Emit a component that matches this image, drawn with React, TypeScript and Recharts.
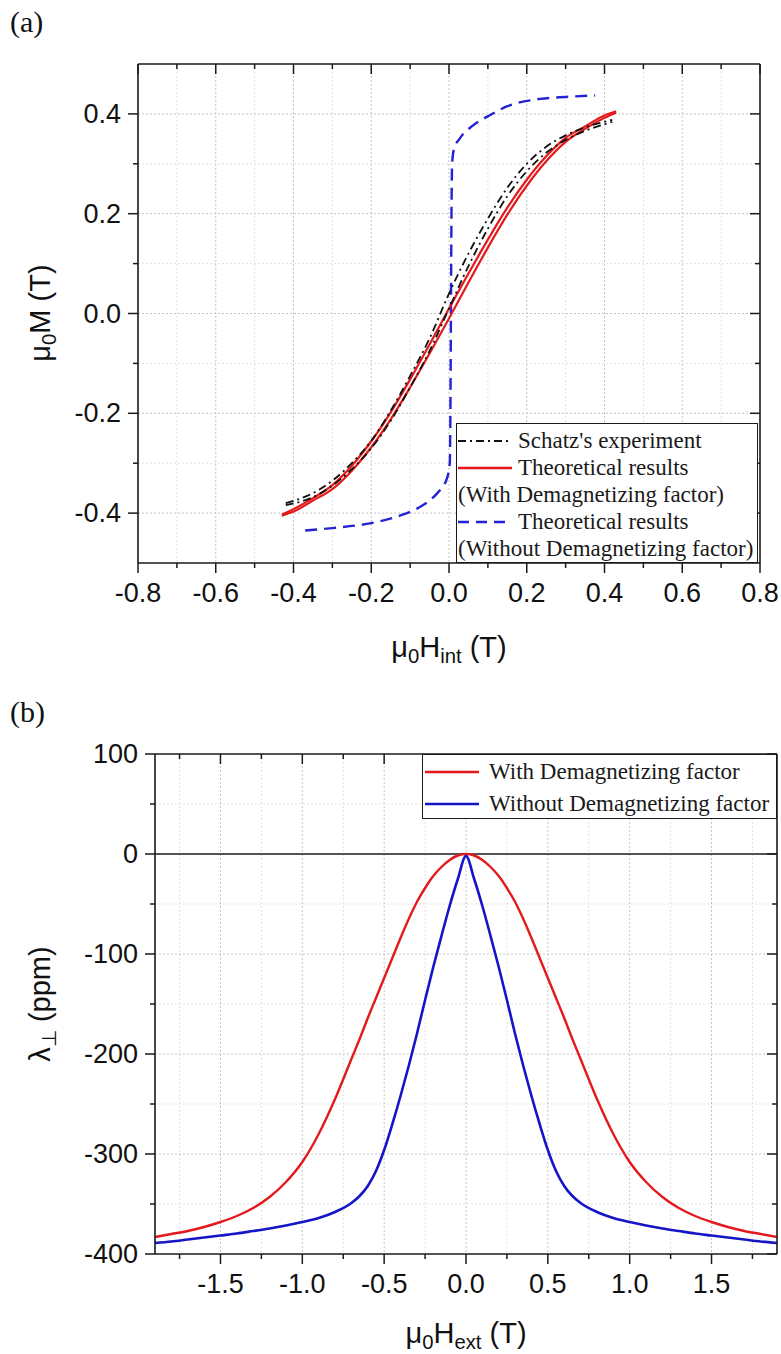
import React from 'react';
import { LineChart, Line, XAxis, YAxis, CartesianGrid, Legend, ReferenceLine } from 'recharts';

// ---- (a) magnetisation, mu0M (T) vs mu0H_int (T) ----
const schatzH = [-0.42, -0.35, -0.3, -0.25, -0.2, -0.15, -0.1, -0.05, 0, 0.05, 0.1, 0.15, 0.2, 0.25, 0.3, 0.35, 0.42];
const schatzUpper = [-0.38, -0.36, -0.335, -0.3, -0.255, -0.195, -0.125, -0.05, 0.04, 0.12, 0.19, 0.252, 0.3, 0.334, 0.357, 0.373, 0.388];
const schatzLower = [-0.384, -0.368, -0.345, -0.312, -0.27, -0.215, -0.148, -0.075, 0.01, 0.095, 0.17, 0.235, 0.285, 0.322, 0.348, 0.366, 0.384];

const redH = [-0.43, -0.4, -0.35, -0.3, -0.25, -0.2, -0.15, -0.1, -0.05, 0, 0.05, 0.1, 0.15, 0.2, 0.25, 0.3, 0.35, 0.4, 0.43];
const redUpper = [-0.403, -0.392, -0.37, -0.344, -0.305, -0.256, -0.198, -0.132, -0.062, 0.01, 0.08, 0.148, 0.212, 0.268, 0.315, 0.352, 0.375, 0.397, 0.405];
const redLower = [-0.405, -0.397, -0.375, -0.352, -0.315, -0.268, -0.212, -0.148, -0.08, -0.01, 0.062, 0.132, 0.198, 0.256, 0.305, 0.344, 0.37, 0.392, 0.403];

const blueH = [-0.37, -0.3, -0.2, -0.126, -0.08, -0.05, -0.03, -0.015, -0.005, 0.002, 0.004, 0.005, 0.006, 0.008, 0.013, 0.028, 0.062, 0.1, 0.149, 0.234, 0.3, 0.376];
const blueM = [-0.435, -0.43, -0.42, -0.405, -0.39, -0.375, -0.36, -0.345, -0.33, -0.3, -0.15, 0, 0.15, 0.3, 0.33, 0.351, 0.377, 0.395, 0.415, 0.43, 0.434, 0.437];

const aTicksX = [-0.8, -0.7, -0.6, -0.5, -0.4, -0.3, -0.2, -0.1, 0, 0.1, 0.2, 0.3, 0.4, 0.5, 0.6, 0.7, 0.8];
const aLabelsX = [-0.8, -0.6, -0.4, -0.2, 0, 0.2, 0.4, 0.6, 0.8];
const aTicksY = [-0.4, -0.3, -0.2, -0.1, 0, 0.1, 0.2, 0.3, 0.4];
const aLabelsY = [-0.4, -0.2, 0, 0.2, 0.4];

// ---- (b) magnetostriction, lambda_perp (ppm) vs mu0H_ext (T) ----
const hExt = [-1.9, -1.8, -1.7, -1.6, -1.5, -1.4, -1.3, -1.2, -1.1, -1.0, -0.9, -0.8, -0.7, -0.65, -0.6, -0.55, -0.5, -0.45, -0.4, -0.35, -0.3, -0.25, -0.2, -0.15, -0.1, -0.05,
  0, 0.05, 0.1, 0.15, 0.2, 0.25, 0.3, 0.35, 0.4, 0.45, 0.5, 0.55, 0.6, 0.65, 0.7, 0.8, 0.9, 1.0, 1.1, 1.2, 1.3, 1.4, 1.5, 1.6, 1.7, 1.8, 1.9];
const lambdaWith = [-383, -380, -377, -373, -368, -362, -354, -343, -328, -308, -280, -245, -205, -185, -164, -144, -124, -104, -84, -65, -48, -34, -22, -13, -6, -1.5,
  0, -1.5, -6, -13, -22, -34, -48, -65, -84, -104, -124, -144, -164, -185, -205, -245, -280, -308, -328, -343, -354, -362, -368, -373, -377, -380, -383];
const lambdaWithout = [-389, -387.5, -385.5, -383.5, -381.5, -379.5, -377, -374.5, -371.5, -368, -364, -358, -349, -342, -332, -317, -296, -270, -242, -212, -180, -146, -113, -82, -52, -25,
  -2, -25, -52, -82, -113, -146, -180, -212, -242, -270, -296, -317, -332, -342, -349, -358, -364, -368, -371.5, -374.5, -377, -379.5, -381.5, -383.5, -385.5, -387.5, -389];

const bTicksX = [-1.75, -1.5, -1.25, -1, -0.75, -0.5, -0.25, 0, 0.25, 0.5, 0.75, 1, 1.25, 1.5, 1.75];
const bLabelsX = [-1.5, -1, -0.5, 0, 0.5, 1, 1.5];
const bTicksY = [-400, -350, -300, -250, -200, -150, -100, -50, 0, 50, 100];
const bLabelsY = [-400, -300, -200, -100, 0, 100];

const toPoints = (h: number[], m: number[]) => h.map((v, i) => ({ h: v, m: m[i] }));

const AXIS = '#1a1a1a';
const SANS = "Arial, 'Liberation Sans', sans-serif";
const SERIF = "'Times New Roman', 'Liberation Serif', serif";

type Side = 'bottom' | 'top' | 'left' | 'right';

// draws its own tick marks: long on labelled values, short otherwise
const tickFor = (side: Side, majors: number[], fmt?: (v: number) => string) => (props: any) => {
  const { x, y, payload } = props;
  const v = Number(payload.value);
  const major = majors.some((t) => Math.abs(t - v) < 1e-6);
  const len = major ? 10 : 5;
  const label = major && fmt ? fmt(v) : null;
  const txt = { fontFamily: SANS, fontSize: 27, fill: '#111' };
  if (side === 'bottom') {
    return (
      <g>
        <line x1={x} y1={y} x2={x} y2={y + len} stroke={AXIS} strokeWidth={1.5} />
        {label !== null && <text x={x} y={y + 30} textAnchor="middle" dominantBaseline="central" {...txt}>{label}</text>}
      </g>
    );
  }
  if (side === 'top') return <line x1={x} y1={y} x2={x} y2={y + len} stroke={AXIS} strokeWidth={1.5} />;
  if (side === 'left') {
    return (
      <g>
        <line x1={x - len} y1={y} x2={x} y2={y} stroke={AXIS} strokeWidth={1.5} />
        {label !== null && <text x={x - 17} y={y} textAnchor="end" dominantBaseline="central" {...txt}>{label}</text>}
      </g>
    );
  }
  return <line x1={x - len} y1={y} x2={x} y2={y} stroke={AXIS} strokeWidth={1.5} />;
};

const f1 = (v: number) => v.toFixed(1);
const fInt = (v: number) => String(Math.round(v));

const Sub = ({ children }: { children: React.ReactNode }) => (
  <span style={{ fontSize: '0.7em', position: 'relative', top: '0.32em' }}>{children}</span>
);

const Title = ({ x, y, rotate, children }: { x: number; y: number; rotate?: boolean; children: React.ReactNode }) => (
  <div
    style={{
      position: 'absolute', left: x, top: y, whiteSpace: 'nowrap', lineHeight: 1,
      transform: `translate(-50%, -50%)${rotate ? ' rotate(-90deg)' : ''}`,
      fontFamily: SANS, fontSize: 29, color: '#111',
    }}
  >
    {children}
  </div>
);

const Sample = ({ color, dash, width }: { color: string; dash?: string; width: number }) => (
  <svg width={56} height={10} style={{ display: 'block', flex: 'none' }}>
    <line x1={0} y1={5} x2={54} y2={5} stroke={color} strokeWidth={width} strokeDasharray={dash} />
  </svg>
);

const rowStyle = (h: number): React.CSSProperties => ({ display: 'flex', alignItems: 'center', height: h, whiteSpace: 'nowrap' });

const LegendA = () => (
  <div style={{ boxSizing: 'border-box', width: 302, height: 140, border: `1.5px solid ${AXIS}`, background: '#fff', padding: '3px 0 0 1px', fontFamily: SERIF, fontSize: 23, color: '#1a1a1a' }}>
    <div style={rowStyle(27)}><Sample color="#111" dash="8 4 2 4" width={2} /><span style={{ marginLeft: 4 }}>Schatz's experiment</span></div>
    <div style={rowStyle(27)}><Sample color="#e31a1c" width={2.4} /><span style={{ marginLeft: 4 }}>Theoretical results</span></div>
    <div style={rowStyle(27)}><span>(With Demagnetizing factor)</span></div>
    <div style={rowStyle(27)}><Sample color="#2323d2" dash="11 7" width={2.4} /><span style={{ marginLeft: 4 }}>Theoretical results</span></div>
    <div style={rowStyle(27)}><span>(Without Demagnetizing factor)</span></div>
  </div>
);

const LegendB = () => (
  <div style={{ boxSizing: 'border-box', width: 355, height: 65, border: `1.5px solid ${AXIS}`, background: '#fff', padding: '1px 0 0 2px', fontFamily: SERIF, fontSize: 23, color: '#1a1a1a' }}>
    <div style={rowStyle(32)}><Sample color="#e3191c" width={2.4} /><span style={{ marginLeft: 8 }}>With Demagnetizing factor</span></div>
    <div style={rowStyle(32)}><Sample color="#1515c8" width={2.4} /><span style={{ marginLeft: 8 }}>Without Demagnetizing factor</span></div>
  </div>
);

const majorA = { x: [-0.6, -0.4, -0.2, 0, 0.2, 0.4, 0.6], y: [-0.4, -0.2, 0, 0.2, 0.4] };
const minorA = { x: [-0.7, -0.5, -0.3, -0.1, 0.1, 0.3, 0.5, 0.7], y: [-0.3, -0.1, 0.1, 0.3] };
const majorB = { x: [-1.5, -1, -0.5, 0, 0.5, 1, 1.5], y: [-300, -200, -100] };
const minorB = { x: [-1.75, -1.25, -0.75, -0.25, 0.25, 0.75, 1.25, 1.75], y: [-350, -250, -150, -50, 50] };

export default function App() {
  const axisLine = { stroke: AXIS, strokeWidth: 1.6 };
  return (
    <div style={{ position: 'absolute', left: 0, top: 0, width: 781, height: 1354, background: '#fff', overflow: 'hidden' }}>
      <div style={{ position: 'absolute', left: 0, top: 0 }}>
        <LineChart width={781} height={700} margin={{ top: 62, right: 19, bottom: 77, left: 78 }}>
          <CartesianGrid xAxisId="x" yAxisId="y" horizontalValues={minorA.y} verticalValues={minorA.x} stroke="#e2e2e2" strokeDasharray="2 2" />
          <CartesianGrid xAxisId="x" yAxisId="y" horizontalValues={majorA.y} verticalValues={majorA.x} stroke="#c4c4c4" strokeDasharray="2 2" />
          <XAxis xAxisId="x" dataKey="h" type="number" domain={[-0.8, 0.8]} allowDataOverflow ticks={aTicksX} interval={0}
            height={60} tickSize={0} tickMargin={0} tickLine={false} axisLine={axisLine} tick={tickFor('bottom', aLabelsX, f1)} />
          <XAxis xAxisId="xt" orientation="top" dataKey="h" type="number" domain={[-0.8, 0.8]} allowDataOverflow ticks={aTicksX} interval={0}
            height={2} tickSize={0} tickMargin={0} tickLine={false} axisLine={axisLine} tick={tickFor('top', aLabelsX)} />
          <YAxis yAxisId="y" type="number" domain={[-0.5, 0.5]} allowDataOverflow ticks={aTicksY} interval={0}
            width={60} tickSize={0} tickMargin={0} tickLine={false} axisLine={axisLine} tick={tickFor('left', aLabelsY, f1)} />
          <YAxis yAxisId="yr" orientation="right" type="number" domain={[-0.5, 0.5]} allowDataOverflow ticks={aTicksY} interval={0}
            width={2} tickSize={0} tickMargin={0} tickLine={false} axisLine={axisLine} tick={tickFor('right', aLabelsY)} />
          <Line xAxisId="x" yAxisId="y" data={toPoints(blueH, blueM)} dataKey="m" type="monotone" stroke="#2323d2" strokeWidth={2.4} strokeDasharray="12 7" dot={false} isAnimationActive={false} />
          <Line xAxisId="x" yAxisId="y" data={toPoints(redH, redUpper)} dataKey="m" type="monotone" stroke="#e31a1c" strokeWidth={2.2} dot={false} isAnimationActive={false} />
          <Line xAxisId="x" yAxisId="y" data={toPoints(redH, redLower)} dataKey="m" type="monotone" stroke="#e31a1c" strokeWidth={2.2} dot={false} isAnimationActive={false} />
          <Line xAxisId="x" yAxisId="y" data={toPoints(schatzH, schatzUpper)} dataKey="m" type="monotone" stroke="#111" strokeWidth={1.8} strokeDasharray="8 4 2 4" dot={false} isAnimationActive={false} />
          <Line xAxisId="x" yAxisId="y" data={toPoints(schatzH, schatzLower)} dataKey="m" type="monotone" stroke="#111" strokeWidth={1.8} strokeDasharray="8 4 2 4" dot={false} isAnimationActive={false} />
          <Legend layout="vertical" align="center" verticalAlign="middle" content={() => <LegendA />}
            wrapperStyle={{ left: 456, top: 423, width: 302, height: 140 }} />
        </LineChart>
      </div>

      <div style={{ position: 'absolute', left: 0, top: 690 }}>
        <LineChart width={781} height={664} margin={{ top: 62, right: 2, bottom: 40, left: 95 }}>
          <CartesianGrid xAxisId="x" yAxisId="y" horizontalValues={minorB.y} verticalValues={minorB.x} stroke="#e2e2e2" strokeDasharray="2 2" />
          <CartesianGrid xAxisId="x" yAxisId="y" horizontalValues={majorB.y} verticalValues={majorB.x} stroke="#c4c4c4" strokeDasharray="2 2" />
          <XAxis xAxisId="x" dataKey="h" type="number" domain={[-1.9, 1.9]} allowDataOverflow ticks={bTicksX} interval={0}
            height={60} tickSize={0} tickMargin={0} tickLine={false} axisLine={axisLine} tick={tickFor('bottom', bLabelsX, f1)} />
          <XAxis xAxisId="xt" orientation="top" dataKey="h" type="number" domain={[-1.9, 1.9]} allowDataOverflow ticks={bTicksX} interval={0}
            height={2} tickSize={0} tickMargin={0} tickLine={false} axisLine={axisLine} tick={tickFor('top', bLabelsX)} />
          <YAxis yAxisId="y" type="number" domain={[-400, 100]} allowDataOverflow ticks={bTicksY} interval={0}
            width={60} tickSize={0} tickMargin={0} tickLine={false} axisLine={axisLine} tick={tickFor('left', bLabelsY, fInt)} />
          <YAxis yAxisId="yr" orientation="right" type="number" domain={[-400, 100]} allowDataOverflow ticks={bTicksY} interval={0}
            width={2} tickSize={0} tickMargin={0} tickLine={false} axisLine={axisLine} tick={tickFor('right', bLabelsY)} />
          <ReferenceLine xAxisId="x" yAxisId="y" y={0} stroke={AXIS} strokeWidth={1.6} />
          <Line xAxisId="x" yAxisId="y" data={toPoints(hExt, lambdaWith)} dataKey="m" type="monotone" stroke="#e3191c" strokeWidth={2.4} dot={false} isAnimationActive={false} />
          <Line xAxisId="x" yAxisId="y" data={toPoints(hExt, lambdaWithout)} dataKey="m" type="monotone" stroke="#1515c8" strokeWidth={2.6} dot={false} isAnimationActive={false} />
          <Legend layout="vertical" align="center" verticalAlign="middle" content={() => <LegendB />}
            wrapperStyle={{ left: 422, top: 64, width: 355, height: 65 }} />
        </LineChart>
      </div>

      <div style={{ position: 'absolute', left: 10, top: 22, transform: 'translateY(-50%)', fontFamily: SERIF, fontSize: 30, lineHeight: 1, color: '#111' }}>(a)</div>
      <div style={{ position: 'absolute', left: 10, top: 712, transform: 'translateY(-50%)', fontFamily: SERIF, fontSize: 30, lineHeight: 1, color: '#111' }}>(b)</div>

      <Title x={40} y={313} rotate>μ<Sub>0</Sub>M (T)</Title>
      <Title x={449} y={647}>μ<Sub>0</Sub>H<Sub>int</Sub> (T)</Title>
      <Title x={40} y={1004} rotate>λ<Sub>⊥</Sub> (ppm)</Title>
      <Title x={466} y={1333}>μ<Sub>0</Sub>H<Sub>ext</Sub> (T)</Title>
    </div>
  );
}
